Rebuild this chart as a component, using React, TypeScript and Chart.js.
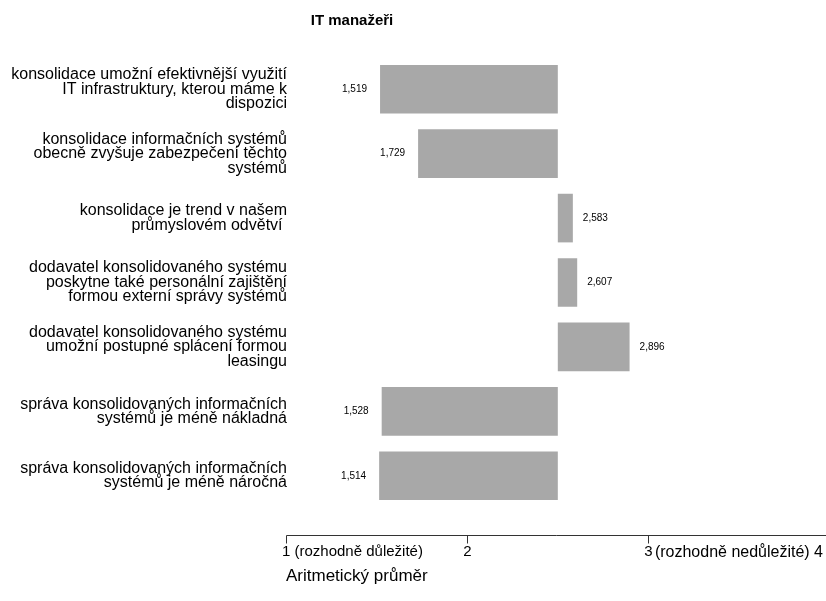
import React, { useEffect, useRef } from "react";
import { Chart, registerables } from "chart.js";

Chart.register(...registerables);

const TITLE = "IT manažeři";
const AXIS_TITLE = "Aritmetický průměr";

const categories: string[][] = [
  ["konsolidace umožní efektivnější využití", "IT infrastruktury, kterou máme k", "dispozici"],
  ["konsolidace informačních systémů", "obecně zvyšuje zabezpečení těchto", "systémů"],
  ["konsolidace je trend v našem", "průmyslovém odvětví "],
  ["dodavatel konsolidovaného systému", "poskytne také personální zajištění", "formou externí správy systémů"],
  ["dodavatel konsolidovaného systému", "umožní postupné splácení formou", "leasingu"],
  ["správa konsolidovaných informačních", "systémů je méně nákladná"],
  ["správa konsolidovaných informačních", "systémů je méně náročná"],
];

const means: number[] = [1.519, 1.729, 2.583, 2.607, 2.896, 1.528, 1.514];

const BASELINE = 2.5;
const AXIS_MIN = 1;
const AXIS_MAX = 3.98;

const tickValues: number[] = [1, 2, 3, 4];
const tickLabels: string[] = ["1 (rozhodně důležité)", "2", "3", "(rozhodně nedůležité) 4"];
const tickFontSizes: number[] = [15, 15, 15, 16];

const FONT = '"Liberation Sans", Arial, Helvetica, sans-serif';
const BAR_COLOR = "rgb(168,168,168)";

const fmt = (v: number) => v.toFixed(3).replace(".", ",");

const decorPlugin = {
  id: "decor",
  afterDraw(chart: any) {
    const ctx: CanvasRenderingContext2D = chart.ctx;
    const xs = chart.scales.x;
    const ys = chart.scales.y;
    const area = chart.chartArea;
    const W = chart.width;
    ctx.save();

    // chart title
    ctx.fillStyle = "#000";
    ctx.font = `bold 15px ${FONT}`;
    ctx.textAlign = "center";
    ctx.textBaseline = "middle";
    ctx.fillText(TITLE, 352, 21);

    // category labels
    ctx.font = `16px ${FONT}`;
    ctx.textAlign = "right";
    ctx.textBaseline = "middle";
    const lh = 14.5;
    categories.forEach((lines, i) => {
      const cy = ys.getPixelForValue(i);
      const top = cy - ((lines.length - 1) * lh) / 2;
      lines.forEach((ln, j) => ctx.fillText(ln, 287, top + j * lh));
    });

    // value labels
    ctx.font = `10px ${FONT}`;
    ctx.textBaseline = "middle";
    means.forEach((v, i) => {
      const cy = ys.getPixelForValue(i);
      const px = xs.getPixelForValue(v);
      if (v < BASELINE) {
        ctx.textAlign = "right";
        ctx.fillText(fmt(v), px - 13, cy);
      } else {
        ctx.textAlign = "left";
        ctx.fillText(fmt(v), px + 10, cy);
      }
    });

    // x axis
    const ay = Math.round(area.bottom + 27) + 0.5;
    const x0 = xs.getPixelForValue(AXIS_MIN);
    ctx.strokeStyle = "#333";
    ctx.lineWidth = 1;
    ctx.beginPath();
    ctx.moveTo(Math.round(x0) + 0.5, ay);
    ctx.lineTo(W, ay);
    ctx.stroke();
    ctx.textBaseline = "top";
    tickValues.forEach((t, i) => {
      const px = Math.round(xs.getPixelForValue(t)) + 0.5;
      if (px < W) {
        ctx.beginPath();
        ctx.moveTo(px, ay);
        ctx.lineTo(px, ay + 8);
        ctx.stroke();
      }
      ctx.font = `${tickFontSizes[i]}px ${FONT}`;
      const label = tickLabels[i];
      if (i === 0) {
        ctx.textAlign = "left";
        ctx.fillText(label, px - 4.5, ay + 9);
      } else if (i === tickValues.length - 1) {
        ctx.textAlign = "right";
        ctx.fillText(label, Math.min(px + 4.5, W - 3), ay + 9);
      } else {
        ctx.textAlign = "center";
        ctx.fillText(label, px, ay + 9);
      }
    });

    // axis title
    ctx.font = `17px ${FONT}`;
    ctx.textAlign = "left";
    ctx.textBaseline = "top";
    ctx.fillText(AXIS_TITLE, x0, ay + 32);

    ctx.restore();
  },
};

export default function App() {
  const ref = useRef<HTMLCanvasElement | null>(null);

  useEffect(() => {
    document.body.style.margin = "0";
    const canvas = ref.current;
    if (!canvas) return;
    const chart = new Chart(canvas, {
      type: "bar",
      data: {
        labels: categories.map((c) => c.join(" ")),
        datasets: [
          {
            data: means.map((v) => [BASELINE, v]) as any,
            backgroundColor: BAR_COLOR,
            borderWidth: 0,
            categoryPercentage: 1,
            barPercentage: 0.755,
          },
        ],
      },
      options: {
        indexAxis: "y",
        animation: false,
        responsive: false,
        devicePixelRatio: 1,
        layout: { padding: { left: 286, right: 0, top: 57, bottom: 93 } },
        plugins: {
          legend: { display: false },
          title: { display: false },
          tooltip: { enabled: false },
        },
        scales: {
          x: { type: "linear", min: AXIS_MIN, max: AXIS_MAX, display: false },
          y: { type: "category", display: false, offset: true },
        },
      },
      plugins: [decorPlugin],
    });
    return () => chart.destroy();
  }, []);

  return (
    <div style={{ width: 826, height: 601, background: "#fff" }}>
      <canvas ref={ref} width={826} height={601} />
    </div>
  );
}
